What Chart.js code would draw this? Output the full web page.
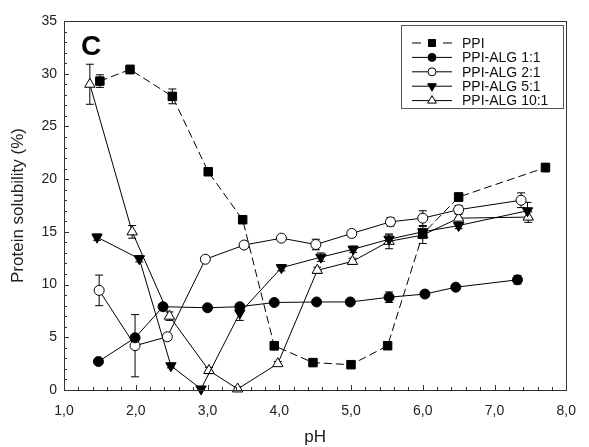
<!DOCTYPE html>
<html>
<head>
<meta charset="utf-8">
<script src="https://cdn.jsdelivr.net/npm/chart.js@4.4.1/dist/chart.umd.min.js"></script>
<style>
  body { margin: 0; background: #fff; }
  #wrap { width: 589px; height: 447px; }
</style>
</head>
<body>
<div id="wrap"><canvas id="solChart"></canvas></div>
<script>
// values (pH vs protein solubility %)
const seriesNames = ["PPI", "PPI-ALG 1:1", "PPI-ALG 2:1", "PPI-ALG 5:1", "PPI-ALG 10:1"];

const phPPI = [1.5, 1.92, 2.51, 3.01, 3.49, 3.93, 4.47, 5.0, 5.51, 6.0, 6.5, 7.71];
const solPPI = [29.3, 30.4, 27.85, 20.7, 16.15, 4.2, 2.6, 2.4, 4.2, 14.8, 18.3, 21.1];
const errPPI = [0.6, 0.4, 0.7, 0.3, 0.3, 0.4, 0.3, 0.3, 0.3, 0.3, 0.4, 0.4];

const ph11 = [1.48, 1.99, 2.38, 3.0, 3.45, 3.93, 4.52, 4.99, 5.53, 6.03, 6.46, 7.32];
const sol11 = [2.7, 4.95, 7.9, 7.8, 7.9, 8.3, 8.35, 8.35, 8.8, 9.1, 9.75, 10.45];
const err11 = [0.2, 0.3, 0.3, 0.2, 0.3, 0.2, 0.2, 0.2, 0.5, 0.2, 0.2, 0.4];

const ph21 = [1.49, 1.99, 2.44, 2.97, 3.51, 4.03, 4.51, 5.01, 5.55, 6.0, 6.5, 7.37];
const sol21 = [9.45, 4.2, 5.05, 12.4, 13.75, 14.4, 13.8, 14.85, 15.95, 16.3, 17.1, 18.0];
const err21 = [1.45, 2.95, 0.3, 0.2, 0.2, 0.2, 0.5, 0.3, 0.4, 0.7, 0.4, 0.7];

const ph51 = [1.46, 2.05, 2.49, 2.91, 3.45, 4.03, 4.58, 5.03, 5.53, 6.0, 6.5, 7.46];
const sol51 = [14.5, 12.45, 2.3, 0.1, 7.3, 11.6, 12.6, 13.35, 14.3, 15.0, 15.6, 17.0];
const err51 = [0.3, 0.3, 0.2, 0.2, 0.7, 0.3, 0.4, 0.3, 0.4, 0.3, 0.3, 0.8];

const ph101 = [1.36, 1.95, 2.47, 3.02, 3.42, 3.98, 4.53, 5.02, 5.53, 6.0, 6.5, 7.47];
const sol101 = [29.0, 15.0, 7.0, 1.85, 0.1, 2.5, 11.35, 12.2, 14.1, 14.7, 16.3, 16.4];
const err101 = [1.9, 0.6, 0.4, 0.3, 0.2, 0.2, 0.3, 0.3, 0.7, 0.8, 0.4, 0.5];

const xTicks = [1, 2, 3, 4, 5, 6, 7, 8];
const yTicks = [0, 5, 10, 15, 20, 25, 30, 35];

const FONT = "Arial, 'Liberation Sans', sans-serif";

function pts(xs, ys) {
  return xs.map((x, i) => ({ x: x, y: ys[i] }));
}

const datasets = [
  { label: seriesNames[0], data: pts(phPPI, solPPI), errors: errPPI,
    borderDash: [8, 4], pointStyle: "rect", pointRadius: 6, pointBackgroundColor: "#000" },
  { label: seriesNames[1], data: pts(ph11, sol11), errors: err11,
    pointStyle: "circle", pointRadius: 5, pointBackgroundColor: "#000" },
  { label: seriesNames[2], data: pts(ph21, sol21), errors: err21,
    pointStyle: "circle", pointRadius: 5, pointBackgroundColor: "#fff" },
  { label: seriesNames[3], data: pts(ph51, sol51), errors: err51,
    pointStyle: "triangle", pointRotation: 180, pointRadius: 6, pointBackgroundColor: "#000" },
  { label: seriesNames[4], data: pts(ph101, sol101), errors: err101,
    pointStyle: "triangle", pointRadius: 6, pointBackgroundColor: "#fff" }
];
datasets.forEach(d => {
  d.borderColor = "#000";
  d.borderWidth = 1;
  d.pointBorderColor = "#000";
  d.pointBorderWidth = 1;
  d.pointHoverRadius = d.pointRadius;
  d.fill = false;
  d.tension = 0;
  d.clip = false;
});

// error bars under the markers
const errorBars = {
  id: "errorBars",
  beforeDatasetsDraw(chart) {
    const ctx = chart.ctx;
    const xs = chart.scales.x, ys = chart.scales.y;
    ctx.save();
    ctx.strokeStyle = "#000";
    ctx.lineWidth = 1;
    chart.data.datasets.forEach(ds => {
      ds.data.forEach((p, i) => {
        const e = ds.errors[i];
        const px = xs.getPixelForValue(p.x);
        const top = ys.getPixelForValue(p.y + e);
        const bot = ys.getPixelForValue(Math.max(p.y - e, 0));
        ctx.beginPath();
        ctx.moveTo(px, top); ctx.lineTo(px, bot);
        ctx.moveTo(px - 4, top); ctx.lineTo(px + 4, top);
        ctx.moveTo(px - 4, bot); ctx.lineTo(px + 4, bot);
        ctx.stroke();
      });
    });
    ctx.restore();
  }
};

// frame, inward ticks, axis titles, panel letter, legend box
const decorations = {
  id: "decorations",
  afterDraw(chart) {
    const ctx = chart.ctx;
    const a = chart.chartArea;
    const xs = chart.scales.x, ys = chart.scales.y;
    ctx.save();
    ctx.strokeStyle = "#333";
    ctx.lineWidth = 1;
    ctx.strokeRect(Math.round(a.left) + 0.5, Math.round(a.top) + 0.5,
      Math.round(a.right - a.left), Math.round(a.bottom - a.top));

    ctx.beginPath();
    for (let v = xTicks[0]; v <= xTicks[xTicks.length - 1] + 1e-6; v += 0.2) {
      const major = Math.abs(v - Math.round(v)) < 1e-6;
      const px = Math.round(xs.getPixelForValue(v)) + 0.5;
      ctx.moveTo(px, a.bottom);
      ctx.lineTo(px, a.bottom - (major ? 5 : 3));
    }
    for (let v = yTicks[0]; v <= yTicks[yTicks.length - 1]; v += 1) {
      const major = v % 5 === 0;
      const py = Math.round(ys.getPixelForValue(v)) + 0.5;
      ctx.moveTo(a.left, py);
      ctx.lineTo(a.left + (major ? 5 : 3), py);
    }
    ctx.stroke();

    ctx.fillStyle = "#222";
    ctx.textAlign = "center";
    ctx.textBaseline = "middle";
    ctx.font = "17px " + FONT;
    ctx.fillText("pH", (a.left + a.right) / 2, 437);
    ctx.save();
    ctx.translate(18, (a.top + a.bottom) / 2);
    ctx.rotate(-Math.PI / 2);
    ctx.fillText("Protein solubility (%)", 0, 0);
    ctx.restore();

    ctx.fillStyle = "#000";
    ctx.font = "bold 28px " + FONT;
    ctx.fillText("C", 91, 47);

    // legend
    const lx = 401, ly = 25, lw = 162, lh = 83;
    ctx.fillStyle = "#fff";
    ctx.fillRect(lx, ly, lw, lh);
    ctx.strokeStyle = "#555";
    ctx.strokeRect(lx + 0.5, ly + 0.5, lw, lh);
    ctx.font = "14px " + FONT;
    ctx.textAlign = "left";
    chart.data.datasets.forEach((ds, i) => {
      const y = 43 + i * 14.4;
      ctx.strokeStyle = "#000";
      ctx.lineWidth = 1;
      ctx.beginPath();
      if (ds.borderDash) {
        ctx.moveTo(412, y); ctx.lineTo(421, y);
        ctx.moveTo(443, y); ctx.lineTo(452, y);
      } else {
        ctx.moveTo(412, y); ctx.lineTo(452, y);
      }
      ctx.stroke();
      ctx.fillStyle = ds.pointBackgroundColor;
      Chart.helpers.drawPoint(ctx, {
        pointStyle: ds.pointStyle,
        rotation: ds.pointRotation || 0,
        radius: ds.pointRadius - 1,
        borderWidth: 1
      }, 432, y);
      ctx.fillStyle = "#111";
      ctx.fillText(ds.label, 462, y + 1);
    });
    ctx.restore();
  }
};

new Chart(document.getElementById("solChart"), {
  type: "line",
  data: { datasets: datasets },
  options: {
    responsive: true,
    maintainAspectRatio: false,
    animation: false,
    layout: { padding: { top: 21, right: 11, left: 0, bottom: 0 } },
    plugins: { legend: { display: false }, tooltip: { enabled: false } },
    scales: {
      x: {
        type: "linear",
        min: 1, max: 8,
        afterFit(s) { s.height = 57; },
        afterBuildTicks(s) { s.ticks = xTicks.map(v => ({ value: v })); },
        ticks: {
          padding: 13,
          color: "#222",
          font: { size: 14, family: FONT },
          callback: v => v.toFixed(1).replace(".", ",")
        },
        grid: { display: false, drawTicks: false },
        border: { display: false }
      },
      y: {
        min: 0, max: 35,
        afterFit(s) { s.width = 64; },
        afterBuildTicks(s) { s.ticks = yTicks.map(v => ({ value: v })); },
        ticks: {
          padding: 7,
          color: "#222",
          font: { size: 14, family: FONT }
        },
        grid: { display: false, drawTicks: false },
        border: { display: false }
      }
    }
  },
  plugins: [errorBars, decorations]
});
</script>
</body>
</html>
